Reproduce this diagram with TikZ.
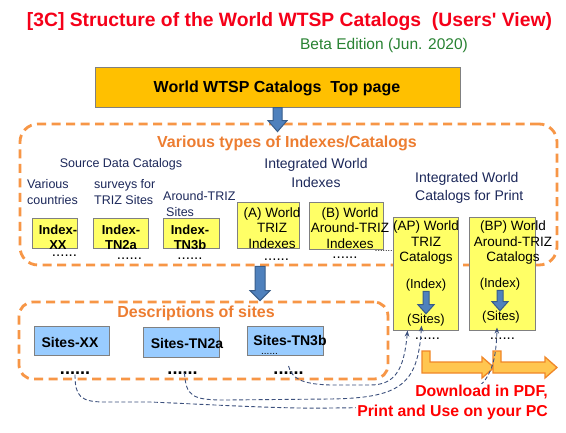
\documentclass[tikz,border=0pt]{standalone}
\usepackage{fontspec}
\setmainfont{Liberation Sans}
\usetikzlibrary{
  arrows.meta,
  calc
}
\definecolor{ttlred}{RGB}{245,0,25}
\definecolor{betagreen}{RGB}{40,130,50}
\definecolor{topfill}{RGB}{255,192,0}
\definecolor{boxline}{RGB}{128,128,128}
\definecolor{idxfill}{RGB}{255,255,102}
\definecolor{sitefill}{RGB}{153,204,255}
\definecolor{grpdash}{RGB}{247,150,70}
\definecolor{grptext}{RGB}{237,125,49}
\definecolor{navytext}{RGB}{28,40,90}
\definecolor{arrfill}{RGB}{79,129,189}
\definecolor{arrline}{RGB}{56,93,138}
\definecolor{dlfill}{RGB}{255,198,80}
\definecolor{dlline}{RGB}{240,135,40}
\definecolor{linkblue}{RGB}{60,80,125}

\tikzset{
  >=Stealth,
  box/.style={draw=boxline,line width=1pt,inner sep=0pt},
  topbox/.style={box,fill=topfill,minimum width=365pt,minimum height=40pt},
  ybox/.style={box,fill=idxfill},
  sbox/.style={box,fill=sitefill},
  grp/.style={draw=grpdash,line width=2.8pt,dash pattern=on 9pt off 5.5pt,
    rounded corners=#1,inner sep=0pt},
  txt/.style={inner sep=0pt,align=center},
  boxtxt/.style={txt,font=\fontsize{13}{15}\selectfont\bfseries},
  sitetxt/.style={txt,font=\fontsize{14}{16}\selectfont\bfseries},
  wtxt/.style={txt,font=\fontsize{13.5}{15.5}\selectfont},
  lbl/.style={txt,text=navytext,font=\fontsize{12.5}{16}\selectfont},
  grplbl/.style={txt,text=grptext,font=\fontsize{16}{19}\selectfont\bfseries},
  dots/.style={inner sep=0pt,font=\fontsize{15}{15}\selectfont},
  bdots/.style={inner sep=0pt,font=\fontsize{18}{18}\selectfont\bfseries},
  link/.style={draw=linkblue,line width=0.9pt,dash pattern=on 4pt off 2.5pt,
    -{Stealth[length=6pt,width=4.5pt]}},
  barrow/.style={fill=arrfill,draw=arrline,line width=1pt},
  dlarrow/.style={fill=dlfill,draw=dlline,line width=1.3pt}
}

% block arrow pointing down: from, to, shaft half, head half, head length
\newcommand{\blockarrow}[5]{%
  \draw[barrow] let \p1=(#1), \p2=(#2) in
    (\x1-#3,\y1) -- (\x1-#3,\y2+#5) -- (\x1-#4,\y2+#5) -- (\x1,\y2)
    -- (\x1+#4,\y2+#5) -- (\x1+#3,\y2+#5) -- (\x1+#3,\y1) -- cycle;}

\begin{document}
\begin{tikzpicture}[x=1pt,y=-1pt]
\fill[white] (0,0) rectangle (566,432);
\useasboundingbox (0,0) rectangle (566,432);

% title
\node[txt,text=ttlred,font=\fontsize{19.3}{22}\selectfont\bfseries] (title) at (289.5,22)
  {[3C] Structure of the World WTSP Catalogs\ \ (Users\textquotesingle\ View)};
\node[txt,text=betagreen,font=\fontsize{15.5}{18}\selectfont] (beta) at (384,45)
  {Beta Edition (Jun. 2020)};

% top page
\node[topbox] (top) at (277.5,87) {};
\node[txt,font=\fontsize{16}{19}\selectfont\bfseries] (top-t) at (277,88)
  {World WTSP Catalogs\ \ Top page};

% groups
\node[grp=18pt,minimum width=537pt,minimum height=141pt] (grp1) at (288.5,194.5) {};
\node[grp=14pt,minimum width=369pt,minimum height=77pt] (grp2) at (203.5,340.5) {};
\node[grplbl] (grp1-t) at (287,143) {Various types of Indexes/Catalogs};
\node[grplbl] (grp2-t) at (196,313) {Descriptions of sites};

% arrows between levels
\path (top.south |- grp1.north) ++(0,9) coordinate (a1e);
\blockarrow{top.south}{a1e}{4.5pt}{9.5pt}{11pt}
\coordinate (a2x) at (260,0);
\blockarrow{grp1.south -| a2x}{grp2.north -| a2x}{5pt}{10pt}{10pt}

% labels
\node[lbl] (src) at (121,164) {Source Data Catalogs};
\node[lbl,anchor=west,align=left] (l-xx) at (27,192) {Various\\countries};
\node[lbl,anchor=west,align=left] (l-tn2a) at (94,192) {surveys for\\TRIZ Sites};
\node[lbl,anchor=west,align=left] (l-tn3b) at (163,204) {Around-TRIZ\\\hspace{3pt}Sites};
\node[lbl,font=\fontsize{14}{19}\selectfont] (l-int) at (316,173) {Integrated World\\Indexes};
\node[lbl,font=\fontsize{14}{18}\selectfont,anchor=west,align=left] (l-prt) at (415,188)
  {Integrated World\\Catalogs for Print};

% index boxes
\node[ybox,minimum width=45pt,minimum height=30pt] (ixx) at (54.5,233) {};
\node[ybox,minimum width=55pt,minimum height=30pt] (itn2a) at (120.5,233) {};
\node[ybox,minimum width=56pt,minimum height=30pt] (itn3b) at (191,233) {};
\node[boxtxt] (ixx-t) at (58,237) {Index-\\XX};
\node[boxtxt] (itn2a-t) at (121,237) {Index-\\TN2a};
\node[boxtxt] (itn3b-t) at (190,237) {Index-\\TN3b};
\node[ybox,minimum width=62pt,minimum height=46pt] (wa) at (268,225.5) {};
\node[ybox,minimum width=74pt,minimum height=47pt] (wb) at (346,225.5) {};
\node[wtxt] (wa-t) at (272,228) {(A) World\\TRIZ\\Indexes};
\node[wtxt] (wb-t) at (350,228) {(B) World\\Around-TRIZ\\Indexes};

\node[dots] (d-ixx) at (64.5,256) {......};
\node[dots] (d-itn2a) at (129.5,259) {......};
\node[dots] (d-itn3b) at (190,259) {......};
\node[dots] (d-wa) at (276.5,260) {......};
\node[dots] (d-wb) at (345,258) {......};
\node[dots,font=\fontsize{9}{9}\selectfont] (d-mid) at (385,251) {........};

% catalogs for print
\node[ybox,minimum width=65pt,minimum height=113pt] (ap) at (425.5,273.5) {};
\node[ybox,minimum width=66pt,minimum height=113pt] (bp) at (502,273.5) {};
\node[wtxt] (ap-t) at (426,243) {(AP) World\\TRIZ\\Catalogs};
\node[wtxt] (bp-t) at (513,243) {(BP) World\\Around-TRIZ\\Catalogs};
\node[txt,font=\fontsize{13}{15}\selectfont] (apidx) at (426,285) {(Index)};
\node[txt,font=\fontsize{13}{15}\selectfont] (apsit) at (426,320) {(Sites)};
\node[txt,font=\fontsize{13}{15}\selectfont] (bpidx) at (500,284) {(Index)};
\node[txt,font=\fontsize{13}{15}\selectfont] (bpsit) at (501,317) {(Sites)};
\blockarrow{apidx.south}{apsit.north}{3pt}{8pt}{9pt}
\blockarrow{bpidx.south}{bpsit.north}{3pt}{8pt}{9pt}
\node[dots] (d-ap) at (427.5,339) {......};
\node[dots] (d-bp) at (502.5,339) {......};

% site boxes
\node[sbox,minimum width=75pt,minimum height=29pt] (sxx) at (71.5,340.5) {};
\node[sbox,minimum width=76pt,minimum height=30pt] (stn2a) at (181,342) {};
\node[sbox,minimum width=76pt,minimum height=29pt] (stn3b) at (285,340.5) {};
\node[sitetxt] (sxx-t) at (70,342) {Sites-XX};
\node[sitetxt] (stn2a-t) at (187,343) {Sites-TN2a};
\node[sitetxt] (stn3b-t) at (290,341) {Sites-TN3b};
\node[dots,font=\fontsize{10}{10}\selectfont] (d-in) at (269.5,354) {......};
\node[bdots] (d-sxx) at (75,373) {......};
\node[bdots] (d-stn2a) at (182.5,373) {......};
\node[bdots] (d-stn3b) at (288.5,373) {......};

% download arrows
\foreach \xa/\xt in {422/494,493/557}
  \draw[dlarrow] (\xa,351) -- (\xa+8,351) -- (\xa+8,362) -- (\xt-12,362)
    -- (\xt-12,357) -- (\xt,367.5) -- (\xt-12,378) -- (\xt-12,373)
    -- (\xa,373) -- cycle;

% links from sites to catalogs
\draw[link] (d-sxx) .. controls (75,396) and (80,402) .. (105,402) -- (150,402)
  .. controls (200,404) and (280,409) .. (330,408)
  .. controls (470,407) and (495,400) .. ([xshift=-5pt,yshift=3pt]bp.south);
\node[txt,fill=white,inner sep=1pt,align=right,anchor=east,text=red,
  font=\fontsize{15.8}{19.5}\selectfont\bfseries] (dl) at (549,402.5)
  {Download in PDF,\\Print and Use on your PC};
\draw[link] ([xshift=2pt]d-stn2a.center) .. controls (186,396) and (192,400) .. (225,400)
  -- (330,399) .. controls (400,398) and (418,385) .. ([xshift=-4pt,yshift=5pt]ap.south);
\draw[link] ([yshift=7pt]d-stn3b.center) .. controls (292,378) and (300,384) .. (330,385)
  -- (370,385) .. controls (395,385) and (404,370) .. ([xshift=-18pt]ap.south);
\end{tikzpicture}
\end{document}
